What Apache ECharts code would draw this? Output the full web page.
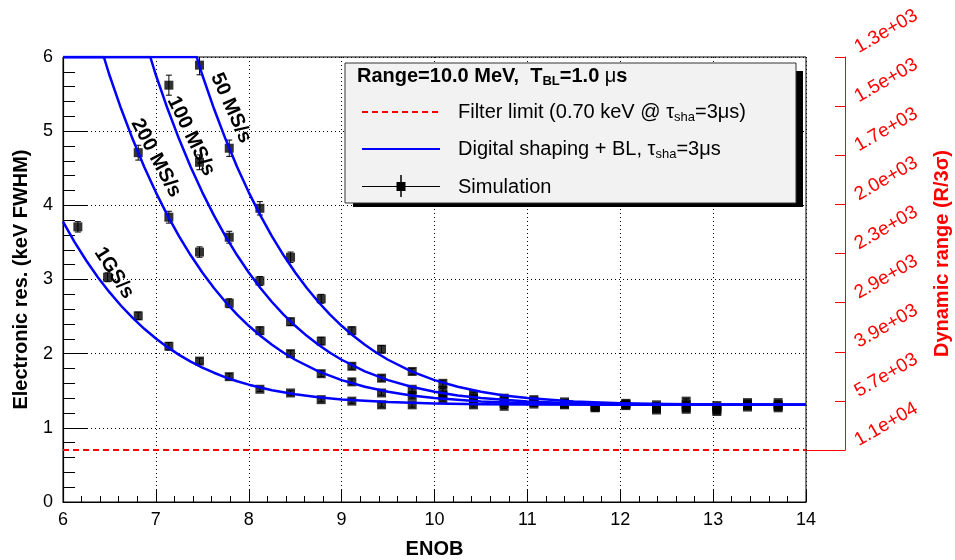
<!DOCTYPE html>
<html><head><meta charset="utf-8">
<script src="https://cdn.jsdelivr.net/npm/echarts@6/dist/echarts.min.js"></script>
<style>html,body{margin:0;padding:0;background:#fff}#c{width:955px;height:560px}</style>
</head><body><div id="c"></div>
<script>
const F = 'Liberation Sans, Arial, Helvetica, sans-serif';

// ---- axis ranges / ticks ----
const xRange = [6, 14];
const yRange = [0, 6];
const drLabels = ['1.1e+04','5.7e+03','3.9e+03','2.9e+03','2.3e+03','2.0e+03','1.7e+03','1.5e+03','1.3e+03'];

// ---- simulation points (ENOB positions shared) ----
const enob = [6.16,6.48,6.81,7.14,7.47,7.79,8.12,8.45,8.78,9.11,9.43,9.76,10.09,10.42,10.75,11.07,11.40,11.73,12.06,12.39,12.71,13.04,13.37,13.70];
const sim50  = [null,null,null,null,5.89,4.77,3.96,3.30,2.74,2.31,2.06,1.76,1.60,1.45,1.40,1.38,1.35,1.29,1.33,1.31,1.36,1.30,1.34,1.34];
const err50  = [null,null,null,null,0.13,0.11,0.09,0.07,0.06,0.05,0.05,0.04,0.04,0.03,0.03,0.03,0.03,0.03,0.03,0.03,0.03,0.03,0.03,0.03];
const sim100 = [null,null,null,5.62,4.58,3.57,2.98,2.43,2.17,1.83,1.67,1.52,1.50,1.40,1.36,1.36,1.33,1.28,1.32,1.28,1.31,1.27,1.32,1.31];
const err100 = [null,null,null,0.135,0.10,0.08,0.06,0.05,0.05,0.04,0.04,0.03,0.03,0.03,0.03,0.03,0.03,0.03,0.03,0.03,0.03,0.03,0.03,0.03];
const sim200 = [null,null,4.71,3.84,3.37,2.68,2.31,2.00,1.73,1.62,1.47,1.43,1.44,1.36,1.33,1.34,1.32,1.28,1.31,1.26,1.27,1.24,1.30,1.29];
const err200 = [null,null,0.10,0.08,0.07,0.06,0.05,0.04,0.04,0.04,0.03,0.03,0.03,0.03,0.03,0.03,0.03,0.03,0.03,0.03,0.03,0.03,0.03,0.03];
const sim1G  = [3.71,3.03,2.51,2.10,1.90,1.69,1.52,1.47,1.38,1.36,1.31,1.31,1.39,1.31,1.29,1.32,1.31,1.27,1.30,1.24,1.25,1.22,1.28,1.27];
const err1G  = [0.07,0.06,0.05,0.05,0.04,0.04,0.03,0.03,0.03,0.03,0.03,0.03,0.03,0.03,0.03,0.03,0.03,0.03,0.03,0.03,0.03,0.03,0.03,0.03];

// ---- model curves (drawn along frame top where above 6) ----
const curveX50  = [6,7.44,7.5,7.625,7.75,7.875,8,8.125,8.25,8.375,8.5,8.625,8.75,8.875,9,9.125,9.25,9.375,9.5,9.75,10,10.25,10.5,10.75,11,11.5,12,12.5,13,14];
const curve50   = [6,6,5.757,5.305,4.893,4.517,4.175,3.864,3.582,3.326,3.094,2.885,2.697,2.527,2.376,2.240,2.120,2.013,1.918,1.762,1.643,1.553,1.486,1.436,1.401,1.356,1.333,1.322,1.316,1.311];
const curveX100 = [6,6.94,7,7.125,7.25,7.375,7.5,7.625,7.75,7.875,8,8.125,8.25,8.375,8.5,8.625,8.75,8.875,9,9.25,9.5,9.75,10,10.25,10.5,11,11.5,12,12.5,13.5,14];
const curve100  = [6,6,5.757,5.305,4.893,4.517,4.175,3.864,3.582,3.326,3.094,2.885,2.697,2.527,2.376,2.240,2.120,2.013,1.918,1.762,1.643,1.553,1.486,1.436,1.401,1.356,1.333,1.322,1.316,1.311,1.310];
const curveX200 = [6,6.44,6.5,6.625,6.75,6.875,7,7.125,7.25,7.375,7.5,7.625,7.75,7.875,8,8.125,8.25,8.375,8.5,8.75,9,9.25,9.5,9.75,10,10.5,11,11.5,12,13,14];
const curve200  = [6,6,5.757,5.305,4.893,4.517,4.175,3.864,3.582,3.326,3.094,2.885,2.697,2.527,2.376,2.240,2.120,2.013,1.918,1.762,1.643,1.553,1.486,1.436,1.401,1.356,1.333,1.322,1.316,1.311,1.310];
const curveX1G  = [6,6.125,6.25,6.375,6.5,6.625,6.75,6.875,7,7.125,7.25,7.375,7.5,7.625,7.75,7.875,8,8.25,8.5,8.75,9,9.5,10,10.5,11,12,13,14];
const curve1G   = [3.780,3.505,3.256,3.031,2.829,2.646,2.482,2.335,2.204,2.088,1.984,1.893,1.813,1.743,1.681,1.628,1.582,1.507,1.452,1.412,1.383,1.347,1.329,1.319,1.315,1.311,1.310,1.310];

const filterLimit = 0.70;
const curveLabels = ['50 MS/s','100 MS/s','200 MS/s','1GS/s'];

function pairs(xs, ys){ return xs.map((x,i)=>[x, ys[i]]).filter(p=>p[1]!=null); }
function triples(xs, ys, es){ return xs.map((x,i)=>[x, ys[i], es[i]]).filter(p=>p[1]!=null); }

function errItem(params, api){
  const x=api.value(0), y=api.value(1), e=api.value(2);
  const t=api.coord([x,y+e]), b=api.coord([x,y-e]);
  const cx=t[0], w=3;
  const st={stroke:'#000', lineWidth:1};
  return {type:'group', children:[
    {type:'line', shape:{x1:cx,y1:t[1],x2:cx,y2:b[1]}, style:st},
    {type:'line', shape:{x1:cx-w,y1:t[1],x2:cx+w,y2:t[1]}, style:st},
    {type:'line', shape:{x1:cx-w,y1:b[1],x2:cx+w,y2:b[1]}, style:st}
  ]};
}

const curves = [[curveX50,curve50],[curveX100,curve100],[curveX200,curve200],[curveX1G,curve1G]];
const sims = [[sim50,err50],[sim100,err100],[sim200,err200],[sim1G,err1G]];

const series = [];
series.push({type:'line', name:'Filter limit', data:[[xRange[0],filterLimit],[xRange[1],filterLimit]],
  symbol:'none', lineStyle:{color:'#ff0000', width:2, type:[6,4]}, z:3, silent:true});
sims.forEach(([s,e])=>{
  series.push({type:'custom', name:'Simulation', renderItem:errItem, data:triples(enob,s,e),
    encode:{x:0,y:1}, clip:true, z:4, silent:true});
  series.push({type:'scatter', name:'Simulation', data:pairs(enob,s), symbol:'rect', symbolSize:9,
    itemStyle:{color:'#000'}, z:5, silent:true});
});
curves.forEach(([xs,ys])=>{
  series.push({type:'line', name:'Digital shaping', data:pairs(xs,ys), symbol:'none', smooth:false,
    clip:true, lineStyle:{color:'#0000ff', width:2.5, join:'round'}, z:6, silent:true});
});

const deg = Math.PI/180;
const labelPos = [[231,108,-66],[191,136,-64],[156,158,-62],[114,273,-57]];
const graphic = [];
curveLabels.forEach((t,i)=>{
  graphic.push({type:'text', x:labelPos[i][0], y:labelPos[i][1], rotation:labelPos[i][2]*deg, z:100,
    style:{text:t, font:'bold 20px '+F, fill:'#000', align:'center', verticalAlign:'middle'}});
});
// legend box
graphic.push({type:'rect', shape:{x:353,y:71,width:450,height:136}, style:{fill:'#000'}, z:90});
graphic.push({type:'rect', shape:{x:345,y:63,width:451,height:140}, style:{fill:'#f2f2f2', stroke:'#333', lineWidth:1}, z:91});
graphic.push({type:'text', x:357, y:76, z:92, style:{
  text:'{b|Range=10.0 MeV,  T}{bs|BL}{b|=1.0 }{m|μ}{b|s}', verticalAlign:'middle',
  rich:{b:{font:'bold 20px '+F, fill:'#000', lineHeight:24},
        bs:{font:'bold 13px '+F, fill:'#000', lineHeight:13, verticalAlign:'bottom'},
        m:{font:'20px '+F, fill:'#000', lineHeight:24}}}});
const rich = {n:{font:'20px '+F, fill:'#000', lineHeight:24}, s:{font:'13px '+F, fill:'#000', lineHeight:13, verticalAlign:'bottom'}};
graphic.push({type:'line', shape:{x1:362,y1:112,x2:440,y2:112}, style:{stroke:'#ff0000', lineWidth:2, lineDash:[6,4]}, z:92});
graphic.push({type:'text', x:458, y:112, z:92, style:{text:'{n|Filter limit (0.70 keV @ τ}{s|sha}{n|=3μs)}', verticalAlign:'middle', rich:rich}});
graphic.push({type:'line', shape:{x1:362,y1:149,x2:440,y2:149}, style:{stroke:'#0000ff', lineWidth:2}, z:92});
graphic.push({type:'text', x:458, y:149, z:92, style:{text:'{n|Digital shaping + BL, τ}{s|sha}{n|=3μs}', verticalAlign:'middle', rich:rich}});
graphic.push({type:'line', shape:{x1:362,y1:186.5,x2:440,y2:186.5}, style:{stroke:'#000', lineWidth:1}, z:92});
graphic.push({type:'line', shape:{x1:401,y1:175,x2:401,y2:197}, style:{stroke:'#000', lineWidth:1.5}, z:92});
graphic.push({type:'rect', shape:{x:396.5,y:182,width:9,height:9}, style:{fill:'#000'}, z:93});
graphic.push({type:'text', x:458, y:187, z:92, style:{text:'{n|Simulation}', verticalAlign:'middle', rich:rich}});

const chart = echarts.init(document.getElementById('c'), null, {renderer:'canvas'});
chart.setOption({
  animation:false,
  backgroundColor:'#fff',
  textStyle:{fontFamily:F},
  grid:[
    {left:63, right:149, top:57, bottom:58, show:true, borderColor:'#000', borderWidth:1, backgroundColor:'transparent', outerBoundsMode:'none'},
    {left:806, right:110, top:57, bottom:110, outerBoundsMode:'none'}
  ],
  xAxis:[
    {gridIndex:0, type:'value', min:xRange[0], max:xRange[1], interval:1,
     axisLine:{show:true, onZero:false, lineStyle:{color:'#000', width:1.2}},
     axisTick:{show:true, inside:true, length:12, lineStyle:{color:'#000'}},
     minorTick:{show:true, splitNumber:5, length:6, lineStyle:{color:'#000'}},
     axisLabel:{fontSize:18, color:'#000', margin:9, fontFamily:F},
     splitLine:{show:true, lineStyle:{color:'#000', width:1, type:[1,3]}},
     name:'ENOB', nameLocation:'middle', nameGap:37,
     nameTextStyle:{fontWeight:'bold', fontSize:20, color:'#000', fontFamily:F}},
    {gridIndex:1, type:'value', min:0, max:1,
     axisLine:{show:true, onZero:false, lineStyle:{color:'#ff0000', width:1}},
     axisTick:{show:false}, axisLabel:{show:false}, splitLine:{show:false}}
  ],
  yAxis:[
    {gridIndex:0, type:'value', min:yRange[0], max:yRange[1], interval:1,
     axisLine:{show:true, onZero:false, lineStyle:{color:'#000', width:1.2}},
     axisTick:{show:true, inside:true, length:24, lineStyle:{color:'#000'}},
     minorTick:{show:true, splitNumber:5, length:12, lineStyle:{color:'#000'}},
     axisLabel:{fontSize:18, color:'#000', margin:10, fontFamily:F},
     splitLine:{show:true, lineStyle:{color:'#000', width:1, type:[1,3]}},
     name:'Electronic res. (keV FWHM)', nameLocation:'middle', nameGap:32,
     nameTextStyle:{fontWeight:'bold', fontSize:20, color:'#000', fontFamily:F}},
    {gridIndex:1, type:'value', position:'right', min:0, max:drLabels.length-1, interval:1,
     axisLine:{show:true, onZero:false, lineStyle:{color:'#ff0000', width:1}},
     axisTick:{show:true, inside:true, length:10, lineStyle:{color:'#ff0000'}},
     axisLabel:{rotate:30, color:'#ff0000', fontSize:19, margin:16, fontFamily:F, verticalAlign:'bottom',
       formatter:(v)=>drLabels[Math.round(v)]},
     splitLine:{show:false},
     name:'Dynamic range (R/3σ)', nameLocation:'middle', nameGap:87,
     nameTextStyle:{fontWeight:'bold', fontSize:20, color:'#ff0000', fontFamily:F}}
  ],
  series: series.map(s=>Object.assign({xAxisIndex:0, yAxisIndex:0}, s)),
  graphic: graphic
});
</script></body></html>
